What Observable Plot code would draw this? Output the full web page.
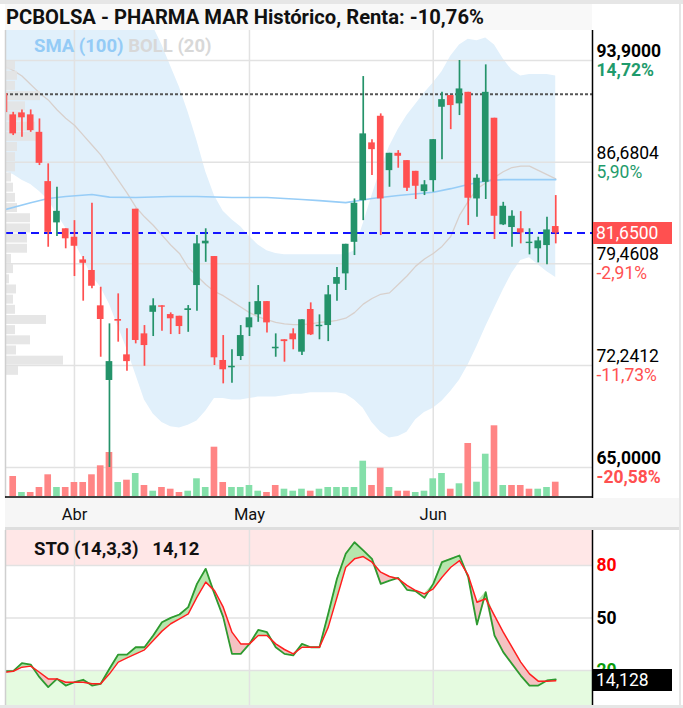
<!DOCTYPE html>
<html><head><meta charset="utf-8">
<script src="https://cdn.jsdelivr.net/npm/d3@7"></script>
<script src="https://cdn.jsdelivr.net/npm/@observablehq/plot@0.6"></script>
<style>
html,body{margin:0;padding:0;background:#fff;}
#root{position:relative;width:683px;height:708px;overflow:hidden;font-family:Roboto,"Noto Sans",sans-serif;background:#fff;}
.abs{position:absolute;white-space:nowrap;}
</style></head><body><div id="root"></div>
<script>
// ---------------- DATA ----------------
const titleText = "PCBOLSA - PHARMA MAR Histórico, Renta: -10,76%";
const firstIndex = -1; // index of first candle (partly hidden at left edge)
const opens  = [91.55,90.04,90.18,90.04,88.80,85.30,82.37,81.95,81.35,79.74,78.99,76.48,71.18,75.51,73.00,83.34,74.49,76.02,76.48,75.86,75.74,76.15,77.92,80.88,79.98,72.60,72.08,72.88,74.92,75.84,76.78,73.43,74.07,74.49,73.19,76.22,75.00,75.08,78.01,78.75,80.99,83.95,88.05,89.94,86.08,87.31,86.79,86.03,84.59,85.37,90.58,91.41,90.82,91.64,84.07,85.25,89.80,82.23,82.04,81.95,80.90,80.53,80.76,82.11];
const highs  = [92.57,90.22,90.39,90.39,89.75,86.56,84.90,81.95,82.53,79.98,83.76,77.80,75.20,77.33,74.85,83.34,75.08,76.98,76.48,75.98,75.74,76.50,81.47,81.95,79.98,74.37,73.36,75.08,76.73,77.92,76.78,74.49,74.07,74.85,75.49,76.69,75.84,77.92,79.20,80.85,84.07,92.76,88.28,90.11,87.31,87.50,86.79,86.03,85.37,88.28,91.64,91.41,93.90,91.64,85.78,93.59,89.80,83.83,83.24,83.17,81.95,81.35,82.77,84.31];
const lows   = [90.00,88.57,88.45,88.80,86.44,80.64,81.40,80.53,78.56,76.81,77.69,72.83,65.00,73.90,71.84,73.78,72.19,74.30,74.68,74.44,74.44,74.60,76.10,79.57,72.24,70.94,70.98,72.60,74.30,75.31,74.56,72.83,72.48,73.36,72.95,74.37,74.07,73.94,76.81,77.57,80.05,82.53,85.73,81.47,84.90,86.25,84.59,84.03,84.31,84.55,86.86,88.99,89.99,82.18,82.77,84.03,81.19,82.18,80.64,80.88,80.10,79.53,79.39,80.88];
const closes = [90.20,88.69,89.83,88.92,86.60,81.70,83.19,81.24,80.71,79.50,77.87,75.51,72.52,75.39,72.52,74.02,73.66,76.48,76.38,75.56,75.01,76.27,80.88,81.07,72.79,71.94,72.19,74.37,75.63,76.78,75.27,73.54,73.94,74.07,75.49,74.42,75.10,77.26,78.49,80.85,83.76,88.69,87.57,84.07,87.31,87.10,84.83,84.97,85.07,88.28,91.12,90.70,91.88,84.12,85.54,91.64,82.84,83.55,82.84,81.66,81.00,81.09,81.87,81.65];
const volumes = [0,200,40,40,90,217,90,90,140,140,217,307,440,140,163,230,110,53,90,73,40,53,177,90,493,140,90,90,110,53,40,110,73,53,73,53,73,90,90,90,90,353,110,283,90,53,53,40,53,177,230,73,127,530,143,423,707,110,110,110,73,73,90,143];
const bollUpper = [101,101,100.8,100.6,100.4,100.2,100,99.7,99.4,99.1,98.8,98.4,98,97.6,97.2,96.9,96.6,96.3,95.0,93.5,92.0,90.2,88.2,86.0,84.3,83.2,82.6,82.1,81.4,80.8,80.4,80.2,80.1,80.1,80.1,80.1,80.1,80.1,80.1,80.1,80.4,82.3,84.3,86.2,87.8,89.0,90.0,90.8,91.6,92.3,93.1,94.2,95.0,95.4,95.3,95.5,95.0,94.0,93.2,92.8,92.9,92.9,92.9,92.8];
const bollLower = [86.0,85.8,85.4,85.1,84.6,84.0,83.0,82.0,81.0,79.8,78.6,77.8,76.6,75.0,73.4,71.6,69.8,68.8,68.2,67.9,67.8,68.0,68.3,69.0,69.9,69.9,69.8,69.8,69.9,70.0,70.0,70.0,70.1,70.2,70.2,70.3,70.3,70.3,70.3,70.2,69.8,69.2,68.2,67.5,67.1,67.2,67.5,68.4,68.9,69.2,69.7,70.4,71.2,72.3,73.6,75.0,76.3,77.6,78.8,79.7,79.9,79.4,78.9,78.5];
const bollMid = [93.5,93.2,92.8,92.2,91.6,91.1,90.4,89.8,89.3,88.6,87.9,87.2,86.3,85.4,84.5,83.5,82.8,82.2,81.5,80.8,80.2,79.2,78.6,78.0,77.5,77.2,76.8,76.4,76.0,75.7,75.5,75.3,75.2,75.15,75.15,75.2,75.3,75.35,75.45,75.6,76.0,76.6,77.0,77.3,77.4,78.0,78.6,79.3,79.8,80.2,80.7,81.4,82.9,83.9,84.8,85.2,85.6,86.0,86.3,86.4,86.4,86.1,85.8,85.5];
const smaIndex = [-1,2,4,6,9,11,14,18,21,25,29,33,35,38,41,44,48,50,52,54,56,62];
const smaValue = [83.3,83.8,84.1,84.24,84.38,84.2,84.17,84.24,84.24,84.17,84.17,84.03,83.95,83.81,84.1,84.31,84.55,84.8,85.1,85.35,85.44,85.44];
const profileStart = 65.0, profileStep = 0.7225;
const profileVolume = [0,0,0,0,0,0,0,0,0,130,580,110,250,100,410,100,80,110,40,80,60,220,220,250,250,120,100,80,60,100,100,120,320,300,150,200,350,100,120,100];
const stoK = [19.6,19.6,24.2,23.4,16.2,10.5,15.2,11.4,13.3,14.7,11.4,12.4,21.0,29.1,29.1,33.3,33.3,40.0,47.6,50.1,52.0,56.2,69.5,78.1,63.8,50.5,29.5,29.5,35.2,43.2,41.9,33.3,29.5,28.6,35.2,33.3,33.3,52.4,72.4,86.7,93.3,88.6,83.8,69.5,71.4,72.9,66.1,65.3,61.5,69.5,81.9,83.8,85.7,73.3,46.3,64.8,40.0,30.5,23.8,17.1,11.4,11.4,14.3,14.9];
const stoD = [19.0,19.6,21.9,22.5,19.0,15.2,15.2,13.3,13.3,13.3,12.4,12.4,18.1,24.8,27.2,29.5,31.8,37.1,42.5,46.7,49.5,52.4,61.9,70.5,65.7,56.2,41.9,35.2,35.2,40.0,40.0,35.2,32.0,29.5,33.3,33.3,33.3,44.8,61.9,79.0,83.8,85.1,81.9,76.2,73.7,72.4,68.6,65.7,63.8,66.7,73.3,79.0,82.8,74.3,59.0,61.0,51.4,41.9,33.3,24.8,18.1,13.9,13.9,14.13];
const priceTicks = [93.9, 86.6804, 79.4608, 72.2412, 65.0];
const priceTickLabels = ["93,9000","86,6804","79,4608","72,2412","65,0000"];
const pctLabels = ["14,72%","5,90%","-2,91%","-11,73%","-20,58%"];
const refPrice = 91.50, lastPrice = 81.65, lastPriceLabel = "81,6500";
const monthIndex = [7, 27, 48];
const monthLabels = ["Abr","May","Jun"];
const stoTicks = [80, 50, 20];
const stoTickLabels = ["80","50","20"];
const stoLastLabel = "14,128";
const stoTitle = "STO (14,3,3)", stoValueText = "14,12";

// ---------------- BUILD ----------------
const root = document.getElementById("root");
const W = 683, PRICE_TOP = 30, PRICE_H = 468, STO_TOP = 530, STO_H = 175;
const xDomain = [-0.88, 66.2], yDomain = [62.80, 96.03];
const RED = "#ff5050", GREEN = "#24936a";

const candles = opens.map((o, k) => ({i: k + firstIndex, o, h: highs[k], l: lows[k], c: closes[k]}));
const vols = volumes.map((v, k) => ({i: k + firstIndex, v, up: k > 0 ? closes[k] >= closes[k-1] : false}));
const band = bollUpper.map((u, k) => ({i: k + firstIndex, up: u, lo: bollLower[k], mid: bollMid[k]}));
const sma = smaIndex.map((i, k) => ({i, v: smaValue[k]}));
const profile = profileVolume.map((v, k) => ({lo: profileStart + k*profileStep, hi: profileStart + (k+1)*profileStep, v}));
const sto = stoK.map((k, j) => ({i: j + firstIndex, k, d: stoD[j]}));
const ticks = priceTicks.map((v, k) => ({v, lab: priceTickLabels[k], pct: pctLabels[k], bold: k === 0 || k === priceTicks.length - 1, pos: v >= 81.85}));

function base(h, extra) {
  return Object.assign({
    width: W, height: h, marginLeft: 5, marginRight: 91, marginTop: 0, marginBottom: 0,
    color: {type: "identity"},
    style: {background: "transparent", overflow: "visible", fontFamily: "Roboto, sans-serif", position: "absolute", left: "0px"}
  }, extra);
}
function put(el, top) { el.style.top = top + "px"; root.appendChild(el); return el; }
function div(text, css) { const d = document.createElement("div"); d.className = "abs"; d.textContent = text; Object.assign(d.style, css); root.appendChild(d); return d; }

// frame / title
const topBar = document.createElement("div"); topBar.className="abs";
Object.assign(topBar.style, {left:"0px", top:"0px", width:"683px", height:"4px", background:"#e6e6e6"}); root.appendChild(topBar);
const titleBg = document.createElement("div"); titleBg.className="abs";
Object.assign(titleBg.style, {left:"5px", top:"4px", width:"587px", height:"26px", background:"#f8f8f8"}); root.appendChild(titleBg);
div(titleText, {left:"6px", top:"4px", fontSize:"20.2px", fontWeight:"700", color:"#111", lineHeight:"27px"});

// x-axis strip
const strip = document.createElement("div"); strip.className="abs";
Object.assign(strip.style, {left:"5px", top:"498px", width:"674px", height:"29px", background:"#f6f6f6", borderBottom:"3px solid #dedede"}); root.appendChild(strip);

// layer 1: grid + bollinger band
put(Plot.plot(base(PRICE_H, {
  x: {domain: xDomain, axis: null}, y: {domain: yDomain, axis: null},
  marks: [
    Plot.areaY(band, {x: "i", y1: "lo", y2: "up", fill: "#e1f0fb", clip: true}),
    Plot.ruleY(priceTicks, {stroke: "#e2e2e2", strokeWidth: 1.5}),
    Plot.ruleX(monthIndex, {stroke: "#e2e2e2", strokeWidth: 1.5}),
    Plot.line(band, {x: "i", y: "mid", stroke: "#d8d0cc", strokeWidth: 1.3, clip: true})
  ]
})), PRICE_TOP);

// layer 2: volume profile (horizontal)
put(Plot.plot(base(PRICE_H, {
  x: {domain: [0, 5870], axis: null}, y: {domain: yDomain, axis: null},
  marks: [
    Plot.rect(profile.filter(d => d.v > 0), {x1: 0, x2: "v", y1: "lo", y2: "hi", fill: "#e3e3e3", fillOpacity: 0.9, insetTop: 0.6, insetBottom: 0.6})
  ]
})), PRICE_TOP);

// layer 3: volume bars
put(Plot.plot(base(PRICE_H, {
  marginBottom: 2,
  x: {domain: xDomain, axis: null}, y: {domain: [0, 4660], axis: null},
  marks: [
    Plot.rect(vols, {x1: d => d.i - 0.38, x2: d => d.i + 0.38, y1: 0, y2: "v", fill: d => d.up ? "#84dfa9" : "#ff8585", clip: true})
  ]
})), PRICE_TOP);

// layer 4: lines, candles, axis
const pricePlot = put(Plot.plot(base(PRICE_H, {
  x: {domain: xDomain, axis: null}, y: {domain: yDomain, axis: null},
  marks: [
    Plot.line(sma, {x: "i", y: "v", stroke: "#97cdf7", strokeWidth: 1.6, clip: true}),
    Plot.ruleY([refPrice], {stroke: "#555", strokeWidth: 2, strokeDasharray: "3,2"}),
    Plot.ruleY([lastPrice], {stroke: "#1414ff", strokeWidth: 2, strokeDasharray: "8,5"}),
    Plot.ruleX(candles, {x: "i", y1: "l", y2: "h", stroke: d => d.c >= d.o ? GREEN : RED, strokeWidth: 1.7, clip: true}),
    Plot.rect(candles, {x1: d => d.i - 0.38, x2: d => d.i + 0.38, y1: d => Math.min(d.o, d.c), y2: d => Math.max(d.o, d.c), fill: d => d.c >= d.o ? GREEN : RED, clip: true}),
    Plot.ruleX([xDomain[0]], {stroke: "#cfcfcf", strokeWidth: 1.5}),
    Plot.ruleX([xDomain[1]], {stroke: "#000", strokeWidth: 1.5}),
    Plot.ruleY([yDomain[0]], {stroke: "#000", strokeWidth: 1.5, dy: -1.5}),
    Plot.text(ticks.filter(d => d.bold), {y: "v", text: "lab", frameAnchor: "right", textAnchor: "start", dx: 4, dy: -9, fontSize: 17.5, fontWeight: 700, fill: "#000"}),
    Plot.text(ticks.filter(d => !d.bold), {y: "v", text: "lab", frameAnchor: "right", textAnchor: "start", dx: 4, dy: -9, fontSize: 17.5, fill: "#000"}),
    Plot.text(ticks.filter(d => d.bold), {y: "v", text: "pct", frameAnchor: "right", textAnchor: "start", dx: 4, dy: 10, fontSize: 17.5, fontWeight: 700, fill: d => d.pos ? "#1f9b6c" : RED}),
    Plot.text(ticks.filter(d => !d.bold), {y: "v", text: "pct", frameAnchor: "right", textAnchor: "start", dx: 4, dy: 10, fontSize: 17.5, fill: d => d.pos ? "#1f9b6c" : RED})
  ]
})), PRICE_TOP);

// last price tag (positioned with the plot's y scale)
const yLast = pricePlot.scale("y").apply(lastPrice) + PRICE_TOP;
div(lastPriceLabel, {left: "593px", top: (yLast - 11) + "px", width: "76px", height: "22px", lineHeight: "22px", background: "#ff5050", color: "#fff", fontSize: "17.5px", paddingLeft: "3px"});

// legend
const leg = document.createElement("div"); leg.className = "abs";
Object.assign(leg.style, {left: "34px", top: "35px", fontSize: "18.5px", fontWeight: "700", lineHeight: "22px"});
leg.innerHTML = '<span style="color:#94cbf6">SMA (100)</span> <span style="color:#d8d8d8">BOLL (20)</span>';
root.appendChild(leg);

// x axis labels
put(Plot.plot(base(29, {
  x: {domain: xDomain, axis: null},
  marks: [Plot.text(monthIndex, {x: d => d, text: (d, k) => monthLabels[k], frameAnchor: "middle", dy: 2, fontSize: 16.5, fill: "#111"})]
})), 498);

// stochastic panel
const stoPlot = put(Plot.plot(base(STO_H, {
  x: {domain: xDomain, axis: null}, y: {domain: [0, 100], axis: null},
  marks: [
    Plot.rect([stoTicks[0]], {y1: d => d, y2: 100, fill: "#ffe7e7"}),
    Plot.rect([stoTicks[2]], {y1: 0, y2: d => d, fill: "#e5fbe0"}),
    Plot.ruleY(stoTicks, {stroke: "#e2e2e2", strokeWidth: 1.5}),
    Plot.ruleX(monthIndex, {stroke: "#e2e2e2", strokeWidth: 1.5}),
    Plot.areaY(sto, {x: "i", y1: "d", y2: d => Math.max(d.k, d.d), fill: "#b6e6ad", clip: true}),
    Plot.areaY(sto, {x: "i", y1: d => Math.min(d.k, d.d), y2: "d", fill: "#f4c2c2", clip: true}),
    Plot.line(sto, {x: "i", y: "k", stroke: "#2e9a30", strokeWidth: 1.8, clip: true}),
    Plot.line(sto, {x: "i", y: "d", stroke: "#ff1f1f", strokeWidth: 1.5, clip: true}),
    Plot.ruleX([xDomain[0]], {stroke: "#cfcfcf", strokeWidth: 1.5}),
    Plot.ruleX([xDomain[1]], {stroke: "#000", strokeWidth: 1.5}),
    Plot.text(stoTicks, {y: d => d, text: (d, k) => stoTickLabels[k], frameAnchor: "right", textAnchor: "start", dx: 4, fontSize: 17.5, fontWeight: 700, fill: (d, k) => d >= 80 ? "#ff0000" : d <= 20 ? "#0a9a0a" : "#000"})
  ]
})), STO_TOP);

const yStoLast = stoPlot.scale("y").apply(stoD[stoD.length - 1]) + STO_TOP;
div(stoLastLabel, {left: "593px", top: (yStoLast - 11) + "px", width: "76px", height: "22px", lineHeight: "22px", background: "#000", color: "#fff", fontSize: "17.5px", paddingLeft: "3px"});
const st = document.createElement("div"); st.className = "abs";
Object.assign(st.style, {left: "34px", top: "538px", fontSize: "18.5px", fontWeight: "700", color: "#111", lineHeight: "22px"});
st.innerHTML = stoTitle + '&nbsp;&nbsp;&nbsp;' + stoValueText;
root.appendChild(st);

// outer borders
const rb = document.createElement("div"); rb.className = "abs";
Object.assign(rb.style, {left: "679px", top: "0px", width: "2px", height: "708px", background: "#e6e6e6"}); root.appendChild(rb);
const bb = document.createElement("div"); bb.className = "abs";
Object.assign(bb.style, {left: "0px", top: "705px", width: "683px", height: "3px", background: "#e6e6e6"}); root.appendChild(bb);
</script></body></html>
